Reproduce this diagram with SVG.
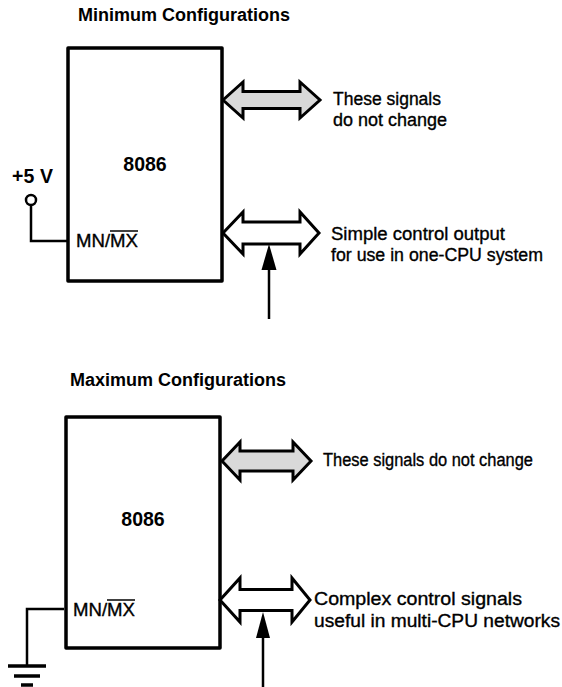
<svg xmlns="http://www.w3.org/2000/svg" width="562" height="687" viewBox="0 0 562 687">
<style>
.title{font-family:"Liberation Sans",Arial,sans-serif;font-weight:bold;font-size:18px;fill:#000}
.lbl{font-family:"Liberation Sans",Arial,sans-serif;font-size:18px;fill:#000;stroke:#000;stroke-width:0.35}
.chip{font-family:"Liberation Sans",Arial,sans-serif;font-weight:bold;font-size:19.5px;fill:#000}
.box{fill:#fff;stroke:#000;stroke-width:3.5;stroke-linejoin:round}
.bus{stroke:#000;stroke-width:3;stroke-linejoin:miter}
.shaded{fill:#d9d9d9}
.plain{fill:#fff}
.wire{fill:none;stroke:#000;stroke-width:2.5}
</style>

<text class="title" x="78" y="21">Minimum Configurations</text>
<text class="title" x="70" y="386">Maximum Configurations</text>

<g id="cpu-min">
<rect class="box" x="68" y="48" width="154" height="233"/>
<text class="chip" x="145" y="171" text-anchor="middle">8086</text>
<text class="lbl" x="76" y="247" textLength="62" lengthAdjust="spacingAndGlyphs">MN/MX</text>
<line x1="110" y1="231" x2="138" y2="231" stroke="#000" stroke-width="1.5"/>
</g>

<g id="cpu-max">
<rect class="box" x="66" y="417" width="154" height="231"/>
<text class="chip" x="143" y="526" text-anchor="middle">8086</text>
<text class="lbl" x="73" y="616" textLength="62" lengthAdjust="spacingAndGlyphs">MN/MX</text>
<line x1="107" y1="600" x2="135" y2="600" stroke="#000" stroke-width="1.5"/>
</g>

<g id="vcc">
<text class="chip" x="12" y="183" font-size="17">+5</text>
<text class="chip" x="40" y="183" font-size="17">V</text>
<circle cx="31" cy="200" r="5" fill="#fff" stroke="#000" stroke-width="2.5"/>
</g>

<g id="gnd">
<line x1="8" y1="666" x2="46" y2="666" stroke="#000" stroke-width="3.5"/>
<line x1="14" y1="676" x2="40" y2="676" stroke="#000" stroke-width="3.5"/>
<line x1="21" y1="685" x2="33" y2="685" stroke="#000" stroke-width="3.5"/>
</g>

<g id="labels">
<text class="lbl" x="333" y="105" textLength="108" lengthAdjust="spacingAndGlyphs">These signals</text>
<text class="lbl" x="333" y="126" textLength="114" lengthAdjust="spacingAndGlyphs">do not change</text>
<text class="lbl" x="331" y="240" textLength="174" lengthAdjust="spacingAndGlyphs">Simple control output</text>
<text class="lbl" x="331" y="261" textLength="212" lengthAdjust="spacingAndGlyphs">for use in one-CPU system</text>
<text class="lbl" x="323" y="466" textLength="210" lengthAdjust="spacingAndGlyphs">These signals do not change</text>
<text class="lbl" x="314" y="605" textLength="208" lengthAdjust="spacingAndGlyphs">Complex control signals</text>
<text class="lbl" x="314" y="627" textLength="246" lengthAdjust="spacingAndGlyphs">useful in multi-CPU networks</text>
</g>

<g id="connectors">
<polygon class="bus shaded" points="223,100 243,82 243,91.5 300,91.5 300,82 320,100 300,118 300,108.5 243,108.5 243,118"/>
<polygon class="bus plain" points="223,233 243,212 243,222 300,222 300,212 319,233 300,254 300,244 243,244 243,254"/>
<polygon class="bus shaded" points="222,461 240,442 240,451 293,451 293,442 311,461 293,480 293,471 240,471 240,480"/>
<polygon class="bus plain" points="220,600 240,578 240,589.5 292,589.5 292,578 310,600 292,622 292,610.5 240,610.5 240,622"/>
<path class="wire" d="M31,205 V241 H68"/>
<path class="wire" d="M64,609 H27 V666"/>
<line x1="269" y1="319" x2="269" y2="268" stroke="#000" stroke-width="2.5"/>
<polygon points="269,244 276.5,270 261.5,270" fill="#000"/>
<line x1="263" y1="687" x2="263" y2="635" stroke="#000" stroke-width="2.5"/>
<polygon points="263,612 270,638 256,638" fill="#000"/>
</g>
</svg>
